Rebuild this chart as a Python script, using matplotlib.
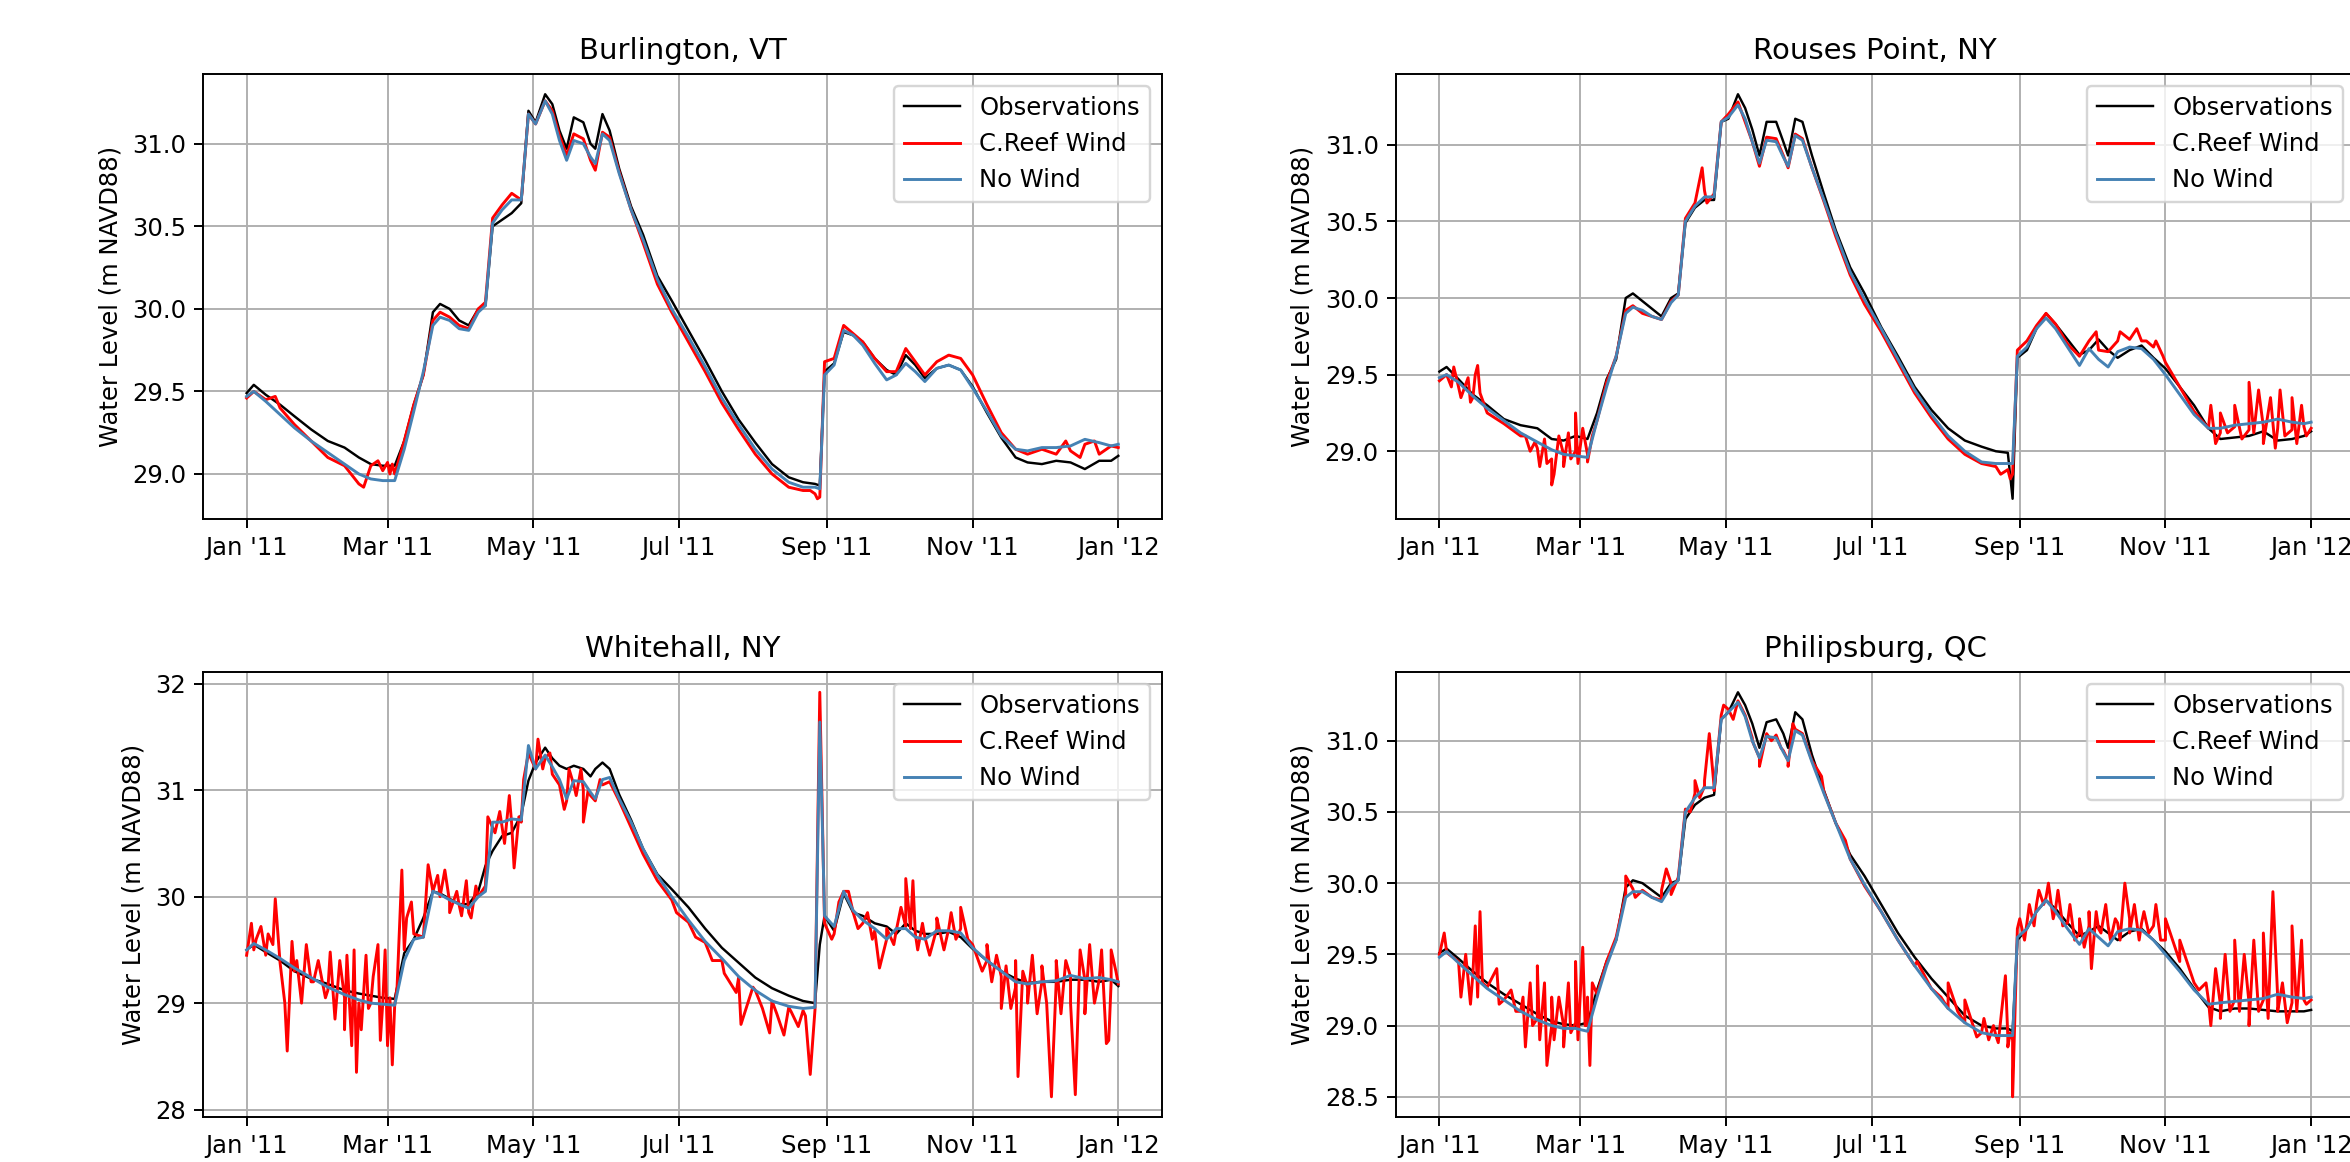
import matplotlib
matplotlib.use("Agg")
import matplotlib.pyplot as plt
import matplotlib.dates as mdates
import matplotlib.ticker as mticker
import numpy as np

# sample days (days since Jan 1 2011) shared by the smooth series
days = [0, 3, 8, 14, 20, 27, 34, 41, 47, 52, 57, 62, 66, 70, 74, 78, 81, 85, 89, 93,
        97, 100, 103, 107, 111, 115, 118, 121, 125, 128, 131, 134, 137, 141, 144, 146,
        149, 152, 156, 161, 166, 172, 178, 185, 192, 199, 206, 213, 220, 227, 233, 238,
        240, 242, 246, 250, 254, 258, 263, 268, 272, 276, 280, 284, 289, 294, 299, 304,
        310, 316, 322, 327, 333, 339, 345, 351, 357, 362, 365]

stations = ["Burlington, VT", "Rouses Point, NY", "Whitehall, NY", "Philipsburg, QC"]
series_labels = ["Observations", "C.Reef Wind", "No Wind"]

# ---- Burlington, VT
burl_obs = [29.49, 29.54, 29.48, 29.42, 29.35, 29.27, 29.20, 29.16, 29.10, 29.06, 29.05, 29.05,
            29.20, 29.42, 29.60, 29.98, 30.03, 30.00, 29.93, 29.90, 30.00, 30.02, 30.50, 30.54,
            30.58, 30.64, 31.20, 31.13, 31.30, 31.24, 31.08, 30.97, 31.16, 31.13, 31.00, 30.97,
            31.18, 31.08, 30.85, 30.62, 30.45, 30.20, 30.05, 29.87, 29.69, 29.50, 29.33, 29.19,
            29.06, 28.98, 28.95, 28.94, 28.93, 29.62, 29.67, 29.86, 29.84, 29.80, 29.70, 29.63,
            29.60, 29.72, 29.66, 29.58, 29.64, 29.66, 29.63, 29.53, 29.37, 29.22, 29.10, 29.07,
            29.06, 29.08, 29.07, 29.03, 29.08, 29.08, 29.11]
burl_creef = [29.46, 29.50, 29.45, 29.40, 29.30, 29.20, 29.10, 29.05, 28.94, 29.05, 29.02, 29.00,
              29.20, 29.42, 29.60, 29.93, 29.98, 29.95, 29.90, 29.88, 30.00, 30.04, 30.55, 30.63,
              30.70, 30.66, 31.18, 31.12, 31.26, 31.20, 31.05, 30.93, 31.06, 31.03, 30.90, 30.84,
              31.07, 31.04, 30.83, 30.60, 30.40, 30.15, 29.98, 29.80, 29.62, 29.43, 29.27, 29.12,
              29.00, 28.92, 28.90, 28.88, 28.86, 29.68, 29.70, 29.90, 29.85, 29.80, 29.70, 29.62,
              29.62, 29.76, 29.68, 29.60, 29.68, 29.72, 29.70, 29.60, 29.42, 29.25, 29.15, 29.12,
              29.15, 29.12, 29.14, 29.18, 29.12, 29.17, 29.16]
burl_nowind = [29.47, 29.50, 29.44, 29.36, 29.28, 29.20, 29.13, 29.06, 29.00, 28.97, 28.96, 28.96,
               29.15, 29.38, 29.62, 29.90, 29.95, 29.93, 29.88, 29.87, 29.98, 30.02, 30.52, 30.60,
               30.66, 30.66, 31.18, 31.12, 31.26, 31.18, 31.02, 30.90, 31.02, 31.00, 30.92, 30.88,
               31.06, 31.02, 30.82, 30.60, 30.42, 30.18, 30.00, 29.83, 29.65, 29.46, 29.30, 29.15,
               29.03, 28.95, 28.92, 28.92, 28.91, 29.60, 29.66, 29.87, 29.84, 29.78, 29.67, 29.57,
               29.60, 29.67, 29.62, 29.56, 29.64, 29.66, 29.63, 29.52, 29.38, 29.23, 29.15, 29.14,
               29.16, 29.16, 29.17, 29.21, 29.19, 29.17, 29.18]
burl_spike_days = [12, 49, 55, 59, 60, 61, 236, 239, 343, 349, 355]
burl_spike_vals = [29.47, 28.92, 29.08, 29.07, 29.00, 29.06, 28.90, 28.85, 29.20, 29.10, 29.20]

# ---- Rouses Point, NY
rous_obs = [29.52, 29.55, 29.47, 29.37, 29.30, 29.21, 29.17, 29.15, 29.08, 29.07, 29.10, 29.08,
            29.25, 29.47, 29.60, 30.00, 30.03, 29.98, 29.93, 29.88, 30.00, 30.03, 30.49, 30.59,
            30.64, 30.64, 31.15, 31.17, 31.33, 31.24, 31.10, 30.93, 31.15, 31.15, 31.02, 30.93,
            31.17, 31.15, 30.93, 30.68, 30.44, 30.20, 30.03, 29.81, 29.62, 29.42, 29.27, 29.15,
            29.07, 29.03, 29.00, 28.99, 28.69, 29.61, 29.66, 29.80, 29.90, 29.83, 29.73, 29.63,
            29.66, 29.73, 29.66, 29.61, 29.66, 29.69, 29.61, 29.54, 29.42, 29.30, 29.15, 29.08,
            29.09, 29.10, 29.13, 29.07, 29.08, 29.10, 29.13]
rous_creef = [29.46, 29.50, 29.42, 29.35, 29.25, 29.18, 29.10, 29.02, 28.95, 28.98, 29.00, 28.98,
              29.20, 29.45, 29.62, 29.92, 29.95, 29.90, 29.88, 29.86, 29.98, 30.02, 30.52, 30.62,
              30.70, 30.68, 31.15, 31.20, 31.28, 31.15, 31.02, 30.86, 31.05, 31.04, 30.93, 30.85,
              31.07, 31.04, 30.85, 30.63, 30.40, 30.15, 29.96, 29.78, 29.58, 29.38, 29.22, 29.08,
              28.98, 28.92, 28.90, 28.88, 28.85, 29.66, 29.72, 29.82, 29.90, 29.83, 29.70, 29.62,
              29.72, 29.66, 29.65, 29.72, 29.73, 29.72, 29.68, 29.58, 29.42, 29.26, 29.15, 29.12,
              29.16, 29.14, 29.16, 29.15, 29.14, 29.16, 29.15]
rous_nowind = [29.48, 29.50, 29.45, 29.36, 29.28, 29.20, 29.12, 29.06, 29.01, 28.98, 28.97, 28.96,
               29.20, 29.42, 29.62, 29.90, 29.94, 29.92, 29.88, 29.86, 29.97, 30.02, 30.50, 30.60,
               30.66, 30.66, 31.15, 31.18, 31.26, 31.17, 31.02, 30.88, 31.03, 31.02, 30.92, 30.86,
               31.06, 31.03, 30.85, 30.64, 30.42, 30.17, 29.99, 29.80, 29.60, 29.40, 29.24, 29.10,
               29.00, 28.93, 28.92, 28.92, 28.92, 29.62, 29.68, 29.80, 29.87, 29.80, 29.68, 29.56,
               29.67, 29.60, 29.55, 29.65, 29.68, 29.67, 29.60, 29.50, 29.37, 29.24, 29.15, 29.15,
               29.17, 29.18, 29.19, 29.21, 29.19, 29.18, 29.19]
rous_spike_days = [5, 6, 9, 12, 13, 15, 16, 17, 36, 38, 40, 42, 44, 45, 47, 48, 50, 52, 54, 55,
                   57, 58, 60, 62, 64, 110, 112, 235, 239, 275, 285, 292, 296, 300, 303, 323, 325,
                   327, 330, 333, 336, 339, 341, 343, 345, 348, 350, 352, 354, 357, 359, 361, 363]
rous_spike_vals = [29.42, 29.55, 29.35, 29.48, 29.32, 29.50, 29.56, 29.38, 29.10, 29.00, 29.06,
                   28.90, 29.08, 28.92, 28.78, 28.85, 29.10, 28.90, 29.12, 28.95, 29.25, 28.92,
                   29.15, 28.93, 29.10, 30.85, 30.62, 28.85, 28.82, 29.78, 29.78, 29.80, 29.72,
                   29.72, 29.62, 29.30, 29.05, 29.25, 29.12, 29.30, 29.08, 29.45, 29.12, 29.40,
                   29.05, 29.35, 29.02, 29.40, 29.10, 29.35, 29.05, 29.30, 29.10]

# ---- Whitehall, NY
whit_obs = [29.50, 29.55, 29.48, 29.40, 29.30, 29.23, 29.18, 29.12, 29.09, 29.07, 29.05, 29.04,
            29.47, 29.60, 29.80, 30.05, 30.03, 29.98, 29.93, 29.93, 30.05, 30.29, 30.43, 30.57,
            30.60, 30.77, 31.09, 31.26, 31.40, 31.30, 31.23, 31.20, 31.23, 31.20, 31.13, 31.20,
            31.26, 31.20, 30.96, 30.72, 30.45, 30.21, 30.07, 29.90, 29.70, 29.52, 29.38, 29.24,
            29.14, 29.07, 29.02, 29.00, 29.55, 29.82, 29.68, 30.03, 29.85, 29.82, 29.75, 29.72,
            29.65, 29.75, 29.68, 29.65, 29.65, 29.67, 29.62, 29.51, 29.40, 29.30, 29.23, 29.19,
            29.20, 29.20, 29.22, 29.22, 29.20, 29.22, 29.16]
whit_creef = [29.45, 29.50, 29.45, 29.38, 29.30, 29.20, 29.12, 29.05, 29.00, 29.00, 29.00, 28.98,
              29.50, 29.65, 29.62, 30.05, 30.00, 29.95, 29.92, 29.85, 30.00, 30.10, 30.65, 30.65,
              30.68, 30.70, 31.35, 31.20, 31.30, 31.15, 31.05, 30.90, 31.05, 31.00, 30.95, 30.90,
              31.05, 31.08, 30.90, 30.65, 30.40, 30.15, 29.97, 29.76, 29.57, 29.40, 29.24, 29.12,
              29.02, 28.96, 28.93, 28.94, 31.92, 29.75, 29.65, 30.05, 29.85, 29.75, 29.68, 29.60,
              29.68, 29.72, 29.65, 29.62, 29.70, 29.70, 29.70, 29.55, 29.40, 29.25, 29.15, 29.15,
              29.20, 29.20, 29.25, 29.22, 29.22, 29.20, 29.18]
whit_nowind = [29.50, 29.56, 29.50, 29.42, 29.33, 29.24, 29.15, 29.08, 29.03, 29.00, 28.99, 28.98,
               29.40, 29.60, 29.62, 30.05, 30.02, 29.97, 29.93, 29.89, 30.00, 30.05, 30.70, 30.70,
               30.73, 30.72, 31.42, 31.20, 31.33, 31.22, 31.10, 30.92, 31.09, 31.08, 30.98, 30.92,
               31.10, 31.12, 30.92, 30.70, 30.45, 30.20, 30.00, 29.78, 29.58, 29.42, 29.25, 29.12,
               29.02, 28.97, 28.95, 28.96, 31.64, 29.82, 29.72, 30.05, 29.87, 29.78, 29.70, 29.60,
               29.70, 29.70, 29.62, 29.60, 29.68, 29.68, 29.66, 29.52, 29.40, 29.30, 29.20, 29.18,
               29.20, 29.21, 29.26, 29.23, 29.24, 29.22, 29.20]
whit_spike_days = [2, 4, 6, 9, 11, 12, 16, 17, 19, 21, 23, 25, 28, 30, 33, 35, 37, 39, 41, 42,
                   44, 45, 46, 48, 50, 51, 53, 55, 56, 58, 59, 60, 61, 63, 65, 67, 69, 76, 80,
                   83, 85, 88, 90, 92, 94, 96, 101, 104, 106, 108, 110, 112, 114, 116, 122, 124,
                   127, 133, 135, 138, 140, 141, 143, 148, 180, 188, 195, 200, 205, 207, 212,
                   216, 219, 222, 225, 228, 231, 234, 236, 243, 245, 248, 252, 256, 260, 262,
                   265, 268, 271, 274, 276, 278, 279, 281, 283, 286, 289, 292, 295, 297, 299,
                   302, 308, 310, 312, 314, 316, 318, 320, 322, 323, 325, 327, 329, 331, 333,
                   335, 337, 339, 341, 343, 345, 347, 349, 351, 353, 355, 358, 360, 361, 362,
                   364]
whit_spike_vals = [29.75, 29.60, 29.72, 29.65, 29.55, 29.98, 29.00, 28.55, 29.58, 29.40, 29.00,
                   29.55, 29.20, 29.40, 29.05, 29.48, 28.85, 29.40, 28.75, 29.45, 28.60, 29.50,
                   28.35, 28.75, 29.45, 28.95, 29.25, 29.55, 28.65, 29.50, 28.60, 29.05, 28.42,
                   29.15, 30.25, 29.80, 29.95, 30.30, 30.20, 30.25, 29.85, 30.05, 29.82, 30.15,
                   29.80, 30.10, 30.75, 30.60, 30.80, 30.50, 30.95, 30.27, 30.75, 31.10, 31.48,
                   31.20, 31.35, 30.82, 31.20, 30.95, 31.20, 30.70, 31.00, 31.10, 29.85, 29.62,
                   29.40, 29.28, 29.10, 28.80, 29.15, 28.95, 28.72, 28.90, 28.70, 28.92, 28.78,
                   28.88, 28.33, 29.70, 29.60, 29.95, 30.05, 29.70, 29.85, 29.60, 29.33, 29.70,
                   29.55, 29.90, 30.17, 29.70, 30.15, 29.50, 29.75, 29.45, 29.80, 29.50, 29.85,
                   29.60, 29.90, 29.60, 29.30, 29.55, 29.20, 29.45, 28.95, 29.35, 28.95, 29.40,
                   28.31, 29.30, 29.00, 29.45, 28.90, 29.35, 29.00, 28.12, 29.40, 28.90, 29.40,
                   29.00, 28.14, 29.50, 28.90, 29.55, 29.00, 29.50, 28.62, 28.65, 29.50, 29.30]

# ---- Philipsburg, QC
phil_obs = [29.51, 29.54, 29.47, 29.38, 29.30, 29.22, 29.15, 29.08, 29.03, 29.01, 29.00, 29.02,
            29.25, 29.45, 29.60, 29.97, 30.02, 30.00, 29.95, 29.90, 30.00, 30.02, 30.45, 30.55,
            30.60, 30.62, 31.15, 31.20, 31.34, 31.25, 31.12, 30.95, 31.13, 31.15, 31.05, 30.95,
            31.20, 31.15, 30.90, 30.65, 30.42, 30.20, 30.05, 29.85, 29.65, 29.48, 29.33, 29.20,
            29.07, 29.00, 28.98, 28.98, 28.96, 29.60, 29.68, 29.80, 29.88, 29.82, 29.72, 29.63,
            29.66, 29.70, 29.65, 29.60, 29.66, 29.68, 29.60, 29.52, 29.40, 29.26, 29.13, 29.10,
            29.12, 29.12, 29.11, 29.10, 29.10, 29.10, 29.11]
phil_creef = [29.50, 29.52, 29.45, 29.36, 29.27, 29.18, 29.10, 29.05, 29.00, 29.00, 29.02, 29.00,
              29.22, 29.45, 29.62, 29.93, 29.96, 29.95, 29.90, 29.88, 30.00, 30.04, 30.52, 30.63,
              30.68, 30.68, 31.18, 31.22, 31.28, 31.18, 31.02, 30.88, 31.05, 31.04, 30.93, 30.86,
              31.08, 31.05, 30.86, 30.64, 30.42, 30.17, 29.98, 29.80, 29.60, 29.42, 29.26, 29.12,
              29.02, 28.95, 28.93, 28.92, 28.90, 29.68, 29.72, 29.85, 29.90, 29.82, 29.72, 29.65,
              29.70, 29.68, 29.70, 29.72, 29.75, 29.72, 29.70, 29.60, 29.45, 29.30, 29.18, 29.15,
              29.18, 29.16, 29.18, 29.20, 29.16, 29.18, 29.18]
phil_nowind = [29.48, 29.52, 29.44, 29.35, 29.26, 29.18, 29.10, 29.04, 29.00, 28.98, 28.98, 28.96,
               29.20, 29.42, 29.60, 29.90, 29.94, 29.94, 29.90, 29.87, 29.98, 30.02, 30.50, 30.60,
               30.67, 30.67, 31.15, 31.20, 31.27, 31.17, 31.00, 30.88, 31.03, 31.02, 30.92, 30.86,
               31.07, 31.04, 30.85, 30.63, 30.42, 30.17, 29.99, 29.80, 29.60, 29.42, 29.26, 29.12,
               29.02, 28.95, 28.93, 28.93, 28.93, 29.62, 29.68, 29.80, 29.88, 29.80, 29.68, 29.57,
               29.68, 29.62, 29.56, 29.66, 29.68, 29.67, 29.60, 29.50, 29.38, 29.25, 29.15, 29.16,
               29.17, 29.18, 29.19, 29.22, 29.20, 29.19, 29.20]
phil_spike_days = [2, 4, 9, 11, 13, 15, 16, 17, 18, 24, 25, 30, 32, 35, 36, 38, 39, 41, 42, 44,
                   45, 47, 48, 50, 52, 54, 55, 57, 58, 60, 61, 62, 63, 64, 78, 82, 93, 95, 97,
                   105, 107, 109, 111, 113, 115, 119, 123, 131, 134, 139, 143, 146, 148, 160,
                   170, 200, 210, 213, 217, 220, 225, 228, 230, 232, 234, 237, 238, 239, 240,
                   243, 245, 247, 249, 251, 253, 255, 257, 259, 261, 264, 266, 268, 270, 272,
                   273, 275, 277, 279, 281, 283, 285, 287, 289, 291, 293, 295, 297, 300, 302,
                   304, 310, 314, 318, 321, 323, 325, 327, 329, 331, 333, 335, 337, 339, 341,
                   343, 345, 347, 349, 351, 353, 355, 357, 359, 361, 363]
phil_spike_vals = [29.65, 29.50, 29.20, 29.50, 29.15, 29.70, 29.20, 29.80, 29.30, 29.40, 29.15,
                   29.25, 29.10, 29.20, 28.85, 29.30, 29.00, 29.42, 28.90, 29.30, 28.72, 29.20,
                   28.90, 29.20, 28.85, 29.30, 28.95, 29.45, 28.90, 29.55, 29.00, 29.20, 28.72,
                   29.30, 30.05, 29.90, 29.95, 30.10, 29.92, 30.50, 30.72, 30.60, 30.72, 31.05,
                   30.65, 31.25, 31.15, 31.00, 30.82, 31.00, 30.95, 30.82, 31.12, 30.75, 30.30,
                   29.45, 29.20, 29.30, 29.10, 29.18, 28.92, 29.05, 28.90, 29.00, 28.88, 29.35,
                   28.85, 28.95, 28.50, 29.75, 29.60, 29.85, 29.70, 29.95, 29.85, 30.00, 29.75,
                   29.95, 29.70, 29.85, 29.60, 29.75, 29.55, 29.80, 29.40, 29.80, 29.65, 29.85,
                   29.60, 29.75, 29.60, 30.00, 29.65, 29.85, 29.60, 29.80, 29.65, 29.85, 29.60,
                   29.75, 29.60, 29.40, 29.25, 29.30, 29.00, 29.40, 29.05, 29.50, 29.10, 29.60,
                   29.10, 29.50, 29.00, 29.60, 29.10, 29.65, 29.05, 29.94, 29.10, 29.30, 29.02,
                   29.70, 29.10, 29.60, 29.15]

station_data = [
    (burl_obs, burl_creef, burl_nowind, burl_spike_days, burl_spike_vals),
    (rous_obs, rous_creef, rous_nowind, rous_spike_days, rous_spike_vals),
    (whit_obs, whit_creef, whit_nowind, whit_spike_days, whit_spike_vals),
    (phil_obs, phil_creef, phil_nowind, phil_spike_days, phil_spike_vals),
]

start = np.datetime64("2011-01-01")


def to_dates(d):
    return (start + np.array(d, dtype="timedelta64[D]")).astype("datetime64[ms]").astype(object)


def plot_station(ax, title, obs, creef, nowind, spike_days, spike_vals):
    # wind run = smooth base plus the spikes
    red_days = np.array(list(days) + list(spike_days))
    red_vals = np.array(list(creef) + list(spike_vals))
    order = np.argsort(red_days, kind="stable")

    ax.plot(to_dates(days), obs, color="black", lw=1.0, label=series_labels[0])
    ax.plot(to_dates(red_days[order]), red_vals[order], color="red", lw=1.2, label=series_labels[1])
    ax.plot(to_dates(days), nowind, color="steelblue", lw=1.2, label=series_labels[2])

    ax.xaxis.set_major_locator(mdates.MonthLocator(bymonth=[1, 3, 5, 7, 9, 11]))
    ax.xaxis.set_major_formatter(mdates.DateFormatter("%b '%y"))
    ax.grid(True)
    ax.set_title(title)
    ax.set_ylabel("Water Level (m NAVD88)")
    ax.legend(loc="upper right", handlelength=2.3)


fig, axes = plt.subplots(2, 2, figsize=(2350 / 175, 1162 / 175), dpi=175)
plt.subplots_adjust(left=0.0864, right=1.002, top=0.9363, bottom=0.0387,
                    wspace=0.244, hspace=0.344)

for ax, title, data in zip(axes.flat, stations, station_data):
    plot_station(ax, title, *data)

# Whitehall has the wider range, so whole-metre ticks there
axes[1, 0].yaxis.set_major_locator(mticker.MultipleLocator(1.0))

plt.savefig("out.png", dpi=175)
